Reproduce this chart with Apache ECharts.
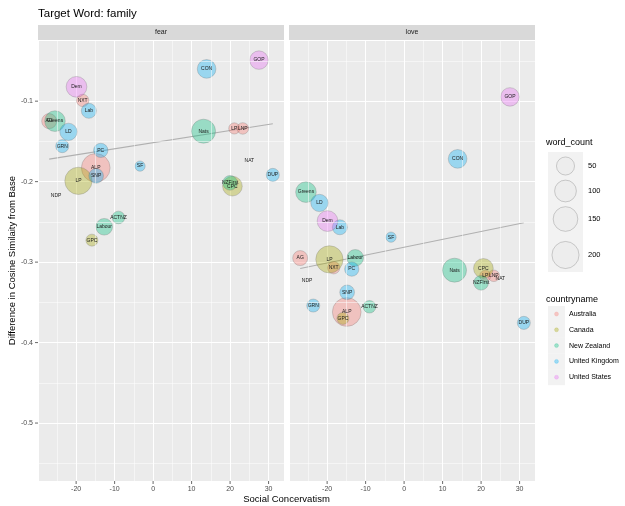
<!DOCTYPE html>
<html><head><meta charset="utf-8">
<script src="https://cdn.jsdelivr.net/npm/echarts@6/dist/echarts.min.js"></script>
<style>html,body{margin:0;padding:0;background:#fff}#c{width:625px;height:506px}</style>
</head><body><div id="c"></div>
<script>
// ---------------- data ----------------
const parties    = ['AG','ALP','LP','LNP','NAT','NXT','CPC','GPC','LP','NDP','ACTNZ','Greens','Labour','Nats','NZFirst','CON','DUP','GRN','Lab','LD','PC','SF','SNP','Dem','GOP'];
const countries  = ['Australia','Australia','Australia','Australia','Australia','Australia','Canada','Canada','Canada','Canada','New Zealand','New Zealand','New Zealand','New Zealand','New Zealand','United Kingdom','United Kingdom','United Kingdom','United Kingdom','United Kingdom','United Kingdom','United Kingdom','United Kingdom','United States','United States'];
const socialCons = [-27.0,-14.9,21.1,23.3,25.0,-18.3,20.6,-15.9,-19.4,-25.2,-9.0,-25.5,-12.7,13.1,20.0,13.9,31.1,-23.6,-16.7,-22.0,-13.6,-3.4,-14.8,-19.9,27.5];
const wordCount  = [22,237,3,4,null,7,70,5.5,204,null,8,83,36,137,20,57,10,10,22,42,17,1,20,84,55];
const fearDiff   = [-0.1248,-0.1829,-0.1339,-0.1339,-0.1745,-0.0991,-0.2056,-0.2727,-0.1990,-0.2176,-0.2445,-0.1248,-0.2561,-0.1373,-0.2015,-0.0599,-0.1916,-0.1559,-0.1120,-0.1381,-0.1612,-0.1807,-0.1928,-0.0822,-0.0490];
const loveDiff   = [-0.2950,-0.3620,-0.3170,-0.3170,-0.3200,-0.3070,-0.3078,-0.3700,-0.2966,-0.3224,-0.3555,-0.2130,-0.2947,-0.3100,-0.3257,-0.1717,-0.3755,-0.3540,-0.2567,-0.2265,-0.3087,-0.2690,-0.3376,-0.2490,-0.0947];
const panels     = ['fear','love'];
const trendX     = [-27.0, 31.1];
const fearTrend  = [-0.172, -0.128];
const loveTrend  = [-0.308, -0.251];
const sizeBreaks = [50,100,150,200];
const countryNames  = ['Australia','Canada','New Zealand','United Kingdom','United States'];
const countryColors = ['#F8766D','#A3A500','#00BF7D','#00B0F6','#E76BF3'];
const xTicks = [-20,-10,0,10,20,30];
const xTickLabels = ['-20','-10','0','10','20','30'];
const xMinor = [-25,-15,-5,5,15,25];
const yTicks = [-0.1,-0.2,-0.3,-0.4,-0.5];
const yTickLabels = ['-0.1','-0.2','-0.3','-0.4','-0.5'];
const yMinor = [-0.05,-0.15,-0.25,-0.35,-0.45,-0.55];
const yLimits = [-0.572, -0.024];

// ---------------- helpers ----------------
const FONT = '"Liberation Sans", Arial, Helvetica, sans-serif';
const GRIDS = [{left:38, top:40, width:246, height:441},{left:289, top:40, width:246, height:441}];
const sizeFn = wc => 9 + 1.28*Math.sqrt(wc);
function rgba(hex, a){const n=parseInt(hex.slice(1),16);return `rgba(${n>>16&255},${n>>8&255},${n&255},${a})`;}
const xMinD = Math.min(...socialCons), xMaxD = Math.max(...socialCons);
const xPad = (xMaxD - xMinD)*0.05;
const xLim = [xMinD - xPad, xMaxD + xPad];
function lab(v, ticks, labels){for(let i=0;i<ticks.length;i++){if(Math.abs(v-ticks[i])<1e-6)return labels[i];}return '';}

const chart = echarts.init(document.getElementById('c'));
const panelY = [fearDiff, loveDiff];
const trends = [fearTrend, loveTrend];
const series = [];
panels.forEach((p, g) => {
  series.push({type:'line', xAxisIndex:g, yAxisIndex:g, z:2, symbol:'none', silent:true, animation:false,
    data: trendX.map((x,i)=>[x, trends[g][i]]), lineStyle:{color:'#B0B0B0', width:1.1},
    markLine:{silent:true, symbol:['none','none'], label:{show:false}, animation:false,
      lineStyle:{color:'#FFFFFF', width:0.5, type:'solid'}, emphasis:{disabled:true},
      data: xMinor.map(v=>({xAxis:v})).concat(yMinor.map(v=>({yAxis:v})))}
  });
  countryNames.forEach((c, ci) => {
    const data = [];
    parties.forEach((name, i) => { if (countries[i]===c && wordCount[i]!=null) data.push([socialCons[i], panelY[g][i], wordCount[i], name]); });
    series.push({type:'scatter', name:c, xAxisIndex:g, yAxisIndex:g, z:3, data, animation:false,
      symbolSize: v=>sizeFn(v[2]),
      itemStyle:{color: rgba(countryColors[ci],0.35), borderColor:'rgba(110,110,110,0.35)', borderWidth:0.8, opacity:1},
      emphasis:{disabled:true}});
  });
  series.push({type:'scatter', xAxisIndex:g, yAxisIndex:g, z:5, silent:true, symbolSize:1, animation:false,
    data: parties.map((name,i)=>[socialCons[i], panelY[g][i], name]),
    itemStyle:{color:'rgba(0,0,0,0)', opacity:1},
    label:{show:true, position:'inside', formatter: q=>q.value[2], fontSize:5, color:'#1a1a1a', fontFamily:FONT}});
});

chart.setOption({
  animation:false,
  backgroundColor:'#FFFFFF',
  grid: GRIDS.map(g=>Object.assign({show:true, backgroundColor:'#EBEBEB', borderWidth:0, containLabel:false}, g)),
  xAxis: GRIDS.map((g,i)=>({gridIndex:i, type:'value', min:xLim[0], max:xLim[1], minInterval:10, maxInterval:10, splitNumber:6,
    axisLine:{show:false}, axisTick:{show:false},
    axisLabel:{show:true, color:'#4D4D4D', fontSize:7, fontFamily:FONT, margin:5, formatter:v=>lab(v,xTicks,xTickLabels)},
    splitLine:{show:true, lineStyle:{color:'#FFFFFF', width:1}}})),
  yAxis: GRIDS.map((g,i)=>({gridIndex:i, type:'value', min:yLimits[0], max:yLimits[1], minInterval:0.1, maxInterval:0.1, splitNumber:5,
    axisLine:{show:false}, axisTick:{show:false},
    axisLabel:{show:i===0, color:'#4D4D4D', fontSize:7, fontFamily:FONT, margin:5, formatter:v=>lab(v,yTicks,yTickLabels)},
    splitLine:{show:true, lineStyle:{color:'#FFFFFF', width:1}}})),
  series
});

// ---------------- annotations / legends ----------------
const gr = [];
const txt = (t, x, y, size, color, align, valign) => ({type:'text', silent:true, z:10, x, y,
  style:{text:t, x:0, y:0, fill:color, font:`${size}px ${FONT}`, align, verticalAlign:valign, textAlign:align, textVerticalAlign:valign}});
gr.push(txt('Target Word: family', 38, 14, 11.5, '#000000', 'left', 'middle'));
GRIDS.forEach((g,i)=>{
  gr.push({type:'rect', silent:true, z:9, shape:{x:g.left, y:25, width:g.width, height:15}, style:{fill:'#D9D9D9'}});
  gr.push(txt(panels[i], g.left+g.width/2, 32.5, 7, '#1A1A1A', 'center', 'middle'));
});
gr.push(txt('Social Concervatism', (GRIDS[0].left+GRIDS[1].left+GRIDS[1].width)/2, 499, 9.5, '#000000', 'center', 'middle'));
const yt = txt('Difference in Cosine Similaity from Base', 12, GRIDS[0].top+GRIDS[0].height/2, 9.5, '#000000', 'center', 'middle');
yt.rotation = Math.PI/2;
gr.push(yt);
// ticks via library scale
GRIDS.forEach((g,i)=>{
  xTicks.forEach(v=>{
    const p = chart.convertToPixel({gridIndex:i}, [v, yLimits[0]]);
    gr.push({type:'line', silent:true, z:10, shape:{x1:p[0], y1:g.top+g.height, x2:p[0], y2:g.top+g.height+3}, style:{stroke:'#444', lineWidth:0.8}});
  });
});
yTicks.forEach(v=>{
  const p = chart.convertToPixel({gridIndex:0}, [xLim[0], v]);
  gr.push({type:'line', silent:true, z:10, shape:{x1:GRIDS[0].left-3, y1:p[1], x2:GRIDS[0].left, y2:p[1]}, style:{stroke:'#444', lineWidth:0.8}});
});
// size legend
gr.push(txt('word_count', 546, 143, 9, '#000000', 'left', 'middle'));
gr.push({type:'rect', silent:true, z:9, shape:{x:548, y:152, width:35, height:120}, style:{fill:'#F2F2F2'}});
const keyY = [166, 191, 219, 255];
sizeBreaks.forEach((b,i)=>{
  gr.push({type:'circle', silent:true, z:10, shape:{cx:565.5, cy:keyY[i], r:sizeFn(b)/2}, style:{fill:'rgba(0,0,0,0.02)', stroke:'rgba(0,0,0,0.22)', lineWidth:0.8}});
  gr.push(txt(String(b), 588, keyY[i], 7.5, '#000000', 'left', 'middle'));
});
// colour legend
gr.push(txt('countryname', 546, 300, 9, '#000000', 'left', 'middle'));
countryNames.forEach((c,i)=>{
  const y = 314 + i*15.8;
  gr.push({type:'rect', silent:true, z:9, shape:{x:548, y:y-8, width:17, height:16}, style:{fill:'#F2F2F2'}});
  gr.push({type:'circle', silent:true, z:10, shape:{cx:556.5, cy:y, r:2}, style:{fill:rgba(countryColors[i],0.35), stroke:rgba(countryColors[i],0.35), lineWidth:0.5}});
  gr.push(txt(c, 569, y, 7, '#000000', 'left', 'middle'));
});
chart.setOption({graphic: gr});
</script>
</body></html>
